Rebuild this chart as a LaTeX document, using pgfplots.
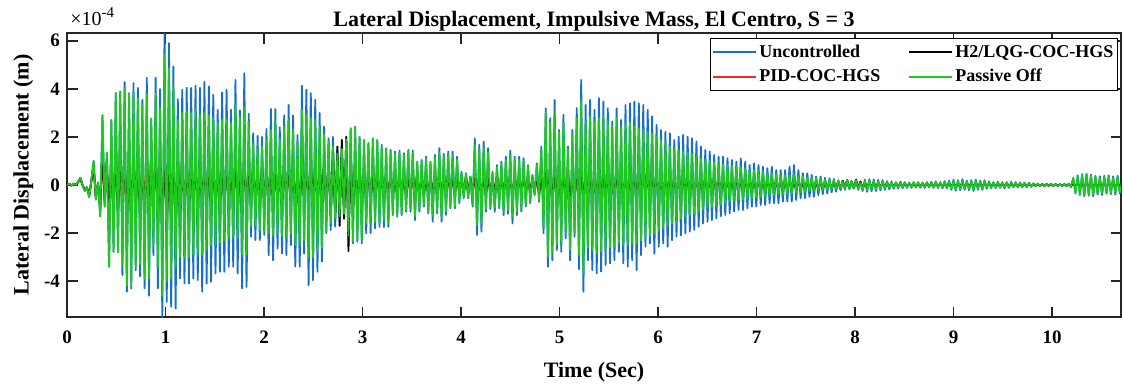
\documentclass[border=0pt]{standalone}
\usepackage{fontspec}
\setmainfont{Liberation Serif}
\usepackage{pgfplots}
\usepackage{pgfplotstable}
\pgfplotsset{compat=1.18}
\definecolor{mblue}{RGB}{25,110,200}
\definecolor{mred}{RGB}{240,40,40}
\definecolor{mgreen}{RGB}{30,200,30}
\definecolor{axgray}{RGB}{38,38,38}

% columns: time, Uncontrolled, Passive Off, PID-COC-HGS, H2/LQG-COC-HGS (units of 1e-4 m)
\pgfplotstableread{
t u g p h
0 0 0 0 0
0.0225 0.05 0.05 0.04 0.05
0.045 -0.03 -0.03 -0.02 -0.03
0.0675 0.06 0.06 0.05 0.06
0.09 0.0 0.0 0.0 0.0
0.1125 0.12 0.12 0.1 0.12
0.135 0.3 0.3 0.25 0.28
0.1575 0.0 0.0 0.0 0.0
0.18 -0.25 -0.25 -0.2 -0.22
0.2025 -0.1 -0.1 -0.1 -0.1
0.225 -0.5 -0.5 -0.4 -0.45
0.2475 0.2 0.2 0.15 0.18
0.27 1.0 1.0 0.7 0.8
0.2925 -0.6 -0.6 -0.5 -0.5
0.315 0.1 0.1 0.0 0.1
0.3375 -1.3 -1.3 -0.9 -1.0
0.36 2.9 2.9 1.2 1.4
0.3825 -0.9 -0.9 -0.6 -0.7
0.405 1.35 1.35 0.8 1.0
0.4275 -3.4 -3.4 -1.5 -1.8
0.45 2.7 2.7 1.0 1.2
0.4725 -2.78 -2.78 -1.2 -1.0
0.495 3.82 3.82 1.3 1.1
0.5175 -2.8 -2.8 -0.9 -1.2
0.54 3.89 3.85 1.1 1.4
0.5625 -3.75 -3.3 -1.3 -1.0
0.585 4.28 4.0 0.9 1.2
0.6075 -4.44 -4.2 -1.4 -1.3
0.63 3.82 3.8 1.2 1.0
0.6525 -4.3 -4.2 -1.0 -1.4
0.675 4.24 3.82 1.3 1.2
0.6975 -3.55 -3.4 -1.1 -0.9
0.72 4.04 3.6 0.8 1.3
0.7425 -3.8 -3.3 -1.2 -1.2
0.765 3.54 3.3 1.0 0.9
0.7875 -4.3 -3.9 -0.8 -1.4
0.81 4.46 3.8 1.2 1.1
0.8325 -4.6 -3.9 -1.1 -1.3
0.855 2.76 2.76 0.7 1.3
0.8775 -2.92 -2.5 -1.0 -0.9
0.90 4.46 3.79 1.1 1.2
0.9225 -4.3 -3.4 -1.2 -1.3
0.945 3.99 3.2 0.9 1.0
0.9675 -5.49 -4.6 -1.4 -1.5
0.99 6.32 5.4 1.3 1.2
1.0125 -4.86 -4.0 -1.6 -2.0
1.035 5.9 4.86 1.2 1.4
1.0575 -5.07 -3.9 -1.3 -1.2
1.08 4.93 4.04 1.0 1.3
1.1025 -5.14 -3.4 -2.0 -1.4
1.125 3.57 2.7 0.9 1.1
1.1475 -3.89 -3.0 -1.0 -1.3
1.17 3.96 3.0 0.8 0.9
1.1925 -4.1 -3.0 -0.9 -1.0
1.215 4.04 3.06 0.7 0.8
1.2375 -4.1 -3.0 -0.8 -0.9
1.26 4.04 3.0 0.7 0.8
1.2825 -3.89 -2.9 -0.8 -0.7
1.305 4.13 3.13 0.6 0.7
1.3275 -3.96 -2.9 -0.7 -0.8
1.35 4.04 2.9 0.6 0.8
1.3725 -4.44 -2.9 -0.7 -0.6
1.395 4.3 3.0 0.8 0.7
1.4175 -4.1 -2.7 -0.6 -0.7
1.44 4.1 2.9 0.7 0.6
1.4625 -4.03 -2.5 -0.6 -0.7
1.485 3.75 2.78 0.5 0.6
1.5075 -3.68 -2.5 -0.7 -0.6
1.53 3.13 2.57 0.6 0.7
1.5525 -3.61 -2.4 -0.5 -0.6
1.575 3.85 2.7 0.7 0.5
1.5975 -3.61 -2.3 -0.6 -0.7
1.62 3.96 2.75 0.6 0.6
1.6425 -3.4 -2.2 -0.7 -0.5
1.665 3.13 2.57 0.5 0.7
1.6875 -3.4 -2.2 -0.6 -0.6
1.71 4.37 3.33 0.8 0.7
1.7325 -3.68 -2.2 -0.7 -0.8
1.755 3.1 2.8 0.6 0.6
1.7775 -4.3 -2.9 -0.8 -0.7
1.80 4.65 3.2 0.7 0.8
1.8225 -4.24 -2.9 -0.6 -0.7
1.845 2.96 2.64 0.7 0.6
1.8675 -2.15 -1.7 -0.8 -0.6
1.89 2.15 1.74 0.6 0.7
1.9125 -2.29 -1.7 -0.7 -0.6
1.935 2.04 1.53 0.8 0.5
1.9575 -2.29 -1.9 -0.8 -0.7
1.98 2.0 1.6 0.8 0.6
2.0025 -2.08 -1.9 -0.8 -0.7
2.025 2.33 1.88 0.6 0.7
2.0475 -2.92 -2.0 -0.7 -0.6
2.07 3.16 2.29 0.6 0.6
2.0925 -3.13 -2.1 -0.5 -0.7
2.115 3.16 2.64 0.6 0.5
2.1375 -2.64 -2.0 -0.6 -0.6
2.16 2.4 1.9 0.5 0.6
2.1825 -2.85 -2.1 -0.6 -0.5
2.205 2.9 2.43 0.6 0.7
2.2275 -2.92 -2.2 -0.5 -0.6
2.25 3.33 2.71 0.5 0.6
2.2725 -2.5 -2.0 -0.6 -0.5
2.295 2.9 2.3 0.6 0.6
2.3175 -3.4 -2.5 -0.5 -0.7
2.34 2.08 1.81 0.6 0.5
2.3625 -3.4 -2.5 -0.7 -0.6
2.385 4.13 3.13 0.6 0.7
2.4075 -2.85 -2.3 -0.5 -0.6
2.43 3.96 2.92 0.8 0.6
2.4525 -4.17 -3.0 -0.6 -0.7
2.475 3.82 2.78 0.7 0.8
2.4975 -3.96 -3.0 -0.7 -0.6
2.52 3.54 2.71 0.8 0.7
2.5425 -3.61 -2.7 -0.6 -0.8
2.565 3.0 2.43 0.7 0.9
2.5875 -3.19 -2.6 -0.8 -0.7
2.61 2.43 2.08 0.7 1.0
2.6325 -2.01 -1.9 -0.8 -1.1
2.655 1.94 1.81 0.9 1.2
2.6775 -1.87 -1.6 -0.7 -1.3
2.70 2.0 1.6 0.8 1.5
2.7225 -1.74 -1.4 -0.9 -1.4
2.745 1.45 1.3 0.8 1.6
2.7675 -1.53 -1.3 -0.9 -1.7
2.79 1.6 1.5 0.9 1.88
2.8125 -1.4 -1.2 -1.0 -1.4
2.835 2.0 1.9 0.8 2.0
2.8575 -2.3 -2.1 -1.2 -2.75
2.88 2.36 2.36 0.7 1.2
2.9025 -2.43 -2.35 -0.8 -1.0
2.925 2.43 2.43 0.6 0.9
2.9475 -2.36 -2.28 -0.7 -0.8
2.97 2.0 2.0 0.6 0.7
2.9925 -2.43 -2.28 -0.6 -0.7
3.015 1.87 1.87 0.5 0.6
3.0375 -2.01 -1.6 -0.6 -0.5
3.06 1.74 1.74 0.5 0.6
3.0825 -2.0 -1.6 -0.5 -0.6
3.105 1.94 1.94 0.6 0.5
3.1275 -1.8 -1.53 -0.5 -0.5
3.15 1.87 1.87 0.5 0.5
3.1725 -1.74 -1.6 -0.4 -0.5
3.195 1.67 1.6 0.5 0.4
3.2175 -1.75 -1.46 -0.5 -0.5
3.24 1.53 1.5 0.4 0.5
3.2625 -1.74 -1.6 -0.5 -0.4
3.285 1.46 1.4 0.5 0.5
3.3075 -1.25 -1.2 -0.4 -0.5
3.33 1.39 1.3 0.4 0.4
3.3525 -1.32 -1.25 -0.5 -0.4
3.375 1.43 1.35 0.4 0.5
3.3975 -1.25 -1.2 -0.4 -0.4
3.42 1.32 1.25 0.5 0.4
3.4425 -1.11 -1.05 -0.4 -0.5
3.465 1.46 1.4 0.4 0.4
3.4875 -1.11 -1.0 -0.5 -0.4
3.51 1.43 1.35 0.4 0.5
3.5325 -1.46 -1.3 -0.6 -0.4
3.555 0.97 0.97 0.6 0.4
3.5775 -1.11 -1.05 -0.5 -0.5
3.60 1.04 1.0 0.4 0.4
3.6225 -0.9 -0.85 -0.4 -0.4
3.645 1.18 1.1 0.4 0.3
3.6675 -1.18 -1.1 -0.4 -0.4
3.69 0.97 0.95 0.3 0.4
3.7125 -1.53 -1.3 -0.4 -0.3
3.735 1.25 1.15 0.4 0.4
3.7575 -1.18 -1.1 -0.3 -0.4
3.78 1.53 1.35 0.4 0.3
3.8025 -1.53 -1.35 -0.4 -0.4
3.825 1.3 1.2 0.3 0.4
3.8475 -1.25 -1.1 -0.4 -0.3
3.87 1.39 1.25 0.4 0.4
3.8925 -0.97 -0.9 -0.3 -0.4
3.915 1.39 1.2 0.3 0.3
3.9375 -0.97 -0.9 -0.4 -0.3
3.96 1.18 1.05 0.3 0.4
3.9825 -0.76 -0.7 -0.3 -0.3
4.005 0.55 0.5 0.3 0.3
4.0275 -0.55 -0.5 -0.4 -0.3
4.05 0.49 0.45 0.4 0.3
4.0725 -0.55 -0.5 -0.3 -0.3
4.095 0.35 0.35 0.3 0.3
4.1175 -0.9 -0.8 -0.3 -0.4
4.14 1.94 1.67 0.3 0.4
4.1625 -2.08 -1.67 -0.4 -0.3
4.185 1.67 1.5 0.4 0.3
4.2075 -1.94 -1.6 -0.3 -0.4
4.23 1.81 1.55 0.3 0.3
4.2525 -1.11 -1.0 -0.3 -0.4
4.275 1.53 1.35 0.4 0.3
4.2975 -1.0 -0.9 -0.3 -0.3
4.32 0.55 0.5 0.3 0.3
4.3425 -1.11 -0.95 -0.4 -0.3
4.365 0.83 0.75 0.5 0.3
4.3875 -0.97 -0.9 -0.5 -0.4
4.41 0.97 0.9 0.4 0.3
4.4325 -1.25 -1.1 -0.3 -0.3
4.455 1.18 1.05 0.3 0.4
4.4775 -1.2 -1.05 -0.3 -0.3
4.50 1.43 1.25 0.3 0.3
4.5225 -1.6 -1.3 -0.3 -0.4
4.545 1.18 1.05 0.3 0.3
4.5675 -1.25 -1.1 -0.3 -0.3
4.59 1.18 1.05 0.3 0.3
4.6125 -1.1 -1.0 -0.3 -0.3
4.635 1.11 1.0 0.3 0.3
4.6575 -0.9 -0.85 -0.3 -0.3
4.68 0.83 0.8 0.3 0.3
4.7025 -0.76 -0.7 -0.3 -0.3
4.725 0.42 0.4 0.3 0.3
4.7475 -0.42 -0.4 -0.3 -0.3
4.77 0.9 0.85 0.4 0.4
4.7925 -0.7 -0.65 -0.4 -0.4
4.815 1.6 1.5 0.5 0.4
4.8375 -2.01 -1.8 -0.6 -0.5
4.86 3.19 2.99 0.8 0.7
4.8825 -3.4 -2.99 -0.9 -0.8
4.905 2.78 2.6 0.7 0.6
4.9275 -3.13 -2.8 -0.8 -0.7
4.95 3.54 2.92 0.7 0.6
4.9725 -2.71 -2.5 -0.6 -0.7
4.995 2.29 2.2 0.6 0.5
5.0175 -2.78 -2.5 -0.7 -0.6
5.04 2.92 2.6 0.7 0.6
5.0625 -2.22 -2.0 -0.9 -0.6
5.085 1.6 1.5 0.76 0.5
5.1075 -3.13 -2.7 -1.0 -0.7
5.13 2.29 2.1 0.6 0.5
5.1525 -2.15 -2.0 -0.6 -0.6
5.175 3.2 2.8 0.5 0.5
5.1975 -3.5 -2.9 -0.6 -0.5
5.22 4.37 3.54 0.6 0.5
5.2425 -4.44 -3.68 -0.5 -0.6
5.265 3.33 2.64 0.5 0.5
5.2875 -3.13 -2.6 -0.5 -0.5
5.31 3.54 2.85 0.5 0.5
5.3325 -3.54 -2.7 -0.5 -0.5
5.355 3.13 2.6 0.5 0.4
5.3775 -3.68 -2.8 -0.4 -0.5
5.40 3.61 2.78 0.4 0.5
5.4225 -3.6 -2.75 -0.5 -0.4
5.445 3.47 2.85 0.4 0.4
5.4675 -3.33 -2.7 -0.4 -0.4
5.49 3.19 2.64 0.4 0.4
5.5125 -3.26 -2.6 -0.4 -0.4
5.535 2.64 2.4 0.4 0.4
5.5575 -3.13 -2.55 -0.4 -0.4
5.58 3.19 2.78 0.4 0.4
5.6025 -2.78 -2.4 -0.4 -0.4
5.625 2.71 2.4 0.4 0.4
5.6475 -3.26 -2.5 -0.4 -0.4
5.67 3.33 2.57 0.4 0.4
5.6925 -3.4 -2.5 -0.4 -0.4
5.715 3.4 2.6 0.4 0.4
5.7375 -3.13 -2.45 -0.4 -0.4
5.76 3.47 2.43 0.4 0.4
5.7825 -3.54 -2.43 -0.4 -0.4
5.805 3.4 2.35 0.4 0.4
5.8275 -2.92 -2.3 -0.4 -0.4
5.85 3.33 2.3 0.4 0.4
5.8725 -2.57 -2.2 -0.3 -0.4
5.895 3.13 2.2 0.4 0.3
5.9175 -2.43 -2.1 -0.3 -0.4
5.94 2.85 2.15 0.3 0.3
5.9625 -2.85 -2.0 -0.3 -0.3
5.985 2.5 2.0 0.3 0.3
6.0075 -2.57 -1.9 -0.3 -0.3
6.03 2.29 1.87 0.3 0.3
6.0525 -2.43 -1.8 -0.3 -0.3
6.075 2.22 1.75 0.3 0.3
6.0975 -2.57 -1.7 -0.3 -0.3
6.12 2.15 1.6 0.3 0.3
6.1425 -2.3 -1.6 -0.3 -0.3
6.165 1.87 1.53 0.3 0.3
6.1875 -2.15 -1.5 -0.3 -0.3
6.21 2.01 1.45 0.3 0.3
6.2325 -2.1 -1.4 -0.3 -0.3
6.255 2.08 1.4 0.3 0.3
6.2775 -2.01 -1.3 -0.3 -0.3
6.30 2.01 1.35 0.3 0.3
6.3225 -1.94 -1.25 -0.3 -0.3
6.345 1.94 1.3 0.3 0.3
6.3675 -1.87 -1.2 -0.3 -0.3
6.39 1.81 1.2 0.3 0.3
6.4125 -1.74 -1.1 -0.3 -0.3
6.435 1.6 1.1 0.3 0.3
6.4575 -1.6 -1.0 -0.3 -0.3
6.48 1.46 1.05 0.3 0.3
6.5025 -1.53 -0.95 -0.3 -0.3
6.525 1.39 1.0 0.3 0.3
6.5475 -1.46 -0.9 -0.3 -0.3
6.57 1.25 0.95 0.25 0.3
6.5925 -1.39 -0.85 -0.3 -0.25
6.615 1.18 0.9 0.25 0.3
6.6375 -1.3 -0.8 -0.3 -0.25
6.66 1.18 0.85 0.25 0.25
6.6825 -1.25 -0.75 -0.25 -0.25
6.705 1.11 0.8 0.25 0.25
6.7275 -1.18 -0.7 -0.25 -0.25
6.75 1.04 0.8 0.25 0.25
6.7725 -1.11 -0.65 -0.25 -0.25
6.795 0.97 0.75 0.25 0.25
6.8175 -1.04 -0.62 -0.25 -0.25
6.84 1.11 0.75 0.25 0.25
6.8625 -1.04 -0.6 -0.25 -0.25
6.885 0.97 0.7 0.25 0.25
6.9075 -0.97 -0.58 -0.25 -0.25
6.93 0.83 0.62 0.2 0.25
6.9525 -0.9 -0.55 -0.25 -0.2
6.975 0.9 0.6 0.2 0.2
6.9975 -0.9 -0.52 -0.2 -0.2
7.02 0.83 0.58 0.2 0.2
7.0425 -0.83 -0.5 -0.2 -0.2
7.065 0.76 0.55 0.2 0.2
7.0875 -0.83 -0.48 -0.2 -0.2
7.11 0.7 0.5 0.2 0.2
7.1325 -0.76 -0.45 -0.2 -0.2
7.155 0.76 0.48 0.2 0.2
7.1775 -0.76 -0.42 -0.2 -0.2
7.20 0.62 0.45 0.2 0.2
7.2225 -0.76 -0.4 -0.2 -0.2
7.245 0.62 0.42 0.2 0.2
7.2675 -0.69 -0.38 -0.2 -0.2
7.29 0.62 0.4 0.2 0.2
7.3125 -0.69 -0.36 -0.2 -0.2
7.335 0.76 0.42 0.2 0.2
7.3575 -0.69 -0.35 -0.2 -0.2
7.38 0.83 0.45 0.2 0.2
7.4025 -0.62 -0.32 -0.2 -0.2
7.425 0.62 0.38 0.2 0.2
7.4475 -0.55 -0.3 -0.2 -0.2
7.47 0.49 0.35 0.15 0.15
7.4925 -0.55 -0.28 -0.15 -0.15
7.515 0.49 0.32 0.15 0.15
7.5375 -0.5 -0.25 -0.15 -0.15
7.56 0.42 0.3 0.15 0.15
7.5825 -0.49 -0.24 -0.15 -0.15
7.605 0.35 0.28 0.15 0.15
7.6275 -0.42 -0.22 -0.15 -0.15
7.65 0.35 0.25 0.15 0.15
7.6725 -0.38 -0.2 -0.15 -0.15
7.695 0.3 0.22 0.12 0.15
7.7175 -0.35 -0.2 -0.12 -0.12
7.74 0.28 0.21 0.12 0.12
7.7625 -0.3 -0.18 -0.12 -0.12
7.785 0.25 0.2 0.12 0.12
7.8075 -0.28 -0.16 -0.12 -0.12
7.83 0.2 0.18 0.12 0.15
7.8525 -0.22 -0.16 -0.12 -0.15
7.875 0.18 0.15 0.1 0.18
7.8975 -0.2 -0.15 -0.1 -0.12
7.92 0.22 0.2 0.1 0.2
7.9425 -0.18 -0.15 -0.1 -0.12
7.965 0.15 0.14 0.1 0.15
7.9875 -0.15 -0.13 -0.1 -0.12
8.01 0.2 0.18 0.1 0.22
8.0325 -0.2 -0.15 -0.1 -0.12
8.055 0.12 0.1 0.08 0.15
8.0775 -0.25 -0.2 -0.1 -0.15
8.10 0.22 0.17 0.08 0.1
8.1225 -0.28 -0.2 -0.08 -0.1
8.145 0.24 0.18 0.08 0.1
8.1675 -0.26 -0.19 -0.08 -0.1
8.19 0.23 0.17 0.08 0.1
8.2125 -0.25 -0.18 -0.08 -0.1
8.235 0.21 0.15 0.08 0.08
8.2575 -0.22 -0.16 -0.08 -0.08
8.28 0.2 0.15 0.08 0.08
8.3025 -0.2 -0.14 -0.08 -0.08
8.325 0.16 0.12 0.06 0.08
8.3475 -0.18 -0.12 -0.06 -0.08
8.37 0.15 0.12 0.06 0.06
8.3925 -0.16 -0.12 -0.06 -0.06
8.415 0.12 0.1 0.06 0.06
8.4375 -0.15 -0.1 -0.06 -0.06
8.46 0.14 0.1 0.06 0.06
8.4825 -0.14 -0.1 -0.06 -0.06
8.505 0.12 0.09 0.05 0.05
8.5275 -0.12 -0.09 -0.05 -0.05
8.55 0.1 0.08 0.05 0.05
8.5725 -0.12 -0.09 -0.05 -0.05
8.595 0.12 0.1 0.05 0.05
8.6175 -0.1 -0.08 -0.05 -0.05
8.64 0.12 0.1 0.05 0.05
8.6625 -0.12 -0.09 -0.05 -0.05
8.685 0.1 0.08 0.05 0.05
8.7075 -0.12 -0.09 -0.05 -0.05
8.73 0.12 0.1 0.05 0.05
8.7525 -0.1 -0.08 -0.05 -0.05
8.775 0.13 0.1 0.05 0.05
8.7975 -0.12 -0.09 -0.05 -0.05
8.82 0.15 0.12 0.05 0.05
8.8425 -0.12 -0.1 -0.05 -0.05
8.865 0.12 0.1 0.05 0.05
8.8875 -0.14 -0.1 -0.05 -0.05
8.91 0.16 0.13 0.05 0.05
8.9325 -0.15 -0.12 -0.05 -0.05
8.955 0.18 0.14 0.05 0.05
8.9775 -0.2 -0.15 -0.05 -0.05
9.00 0.22 0.17 0.05 0.05
9.0225 -0.24 -0.18 -0.05 -0.05
9.045 0.2 0.16 0.05 0.05
9.0675 -0.22 -0.17 -0.05 -0.05
9.09 0.24 0.18 0.05 0.05
9.1125 -0.2 -0.15 -0.05 -0.05
9.135 0.18 0.14 0.05 0.05
9.1575 -0.22 -0.17 -0.05 -0.05
9.18 0.2 0.16 0.05 0.05
9.2025 -0.25 -0.2 -0.05 -0.05
9.225 0.22 0.17 0.05 0.05
9.2475 -0.2 -0.16 -0.05 -0.05
9.27 0.18 0.15 0.05 0.05
9.2925 -0.2 -0.16 -0.05 -0.05
9.315 0.2 0.16 0.05 0.05
9.3375 -0.16 -0.12 -0.05 -0.05
9.36 0.15 0.12 0.05 0.05
9.3825 -0.14 -0.11 -0.05 -0.05
9.405 0.12 0.1 0.05 0.05
9.4275 -0.13 -0.1 -0.05 -0.05
9.45 0.14 0.11 0.05 0.05
9.4725 -0.12 -0.1 -0.05 -0.05
9.495 0.12 0.1 0.05 0.05
9.5175 -0.14 -0.11 -0.05 -0.05
9.54 0.12 0.1 0.05 0.05
9.5625 -0.12 -0.09 -0.05 -0.05
9.585 0.13 0.1 0.05 0.05
9.6075 -0.1 -0.08 -0.05 -0.05
9.63 0.12 0.09 0.05 0.05
9.6525 -0.1 -0.08 -0.05 -0.05
9.675 0.11 0.08 0.04 0.04
9.6975 -0.1 -0.08 -0.04 -0.04
9.72 0.1 0.08 0.04 0.04
9.7425 -0.09 -0.07 -0.04 -0.04
9.765 0.1 0.08 0.04 0.04
9.7875 -0.08 -0.06 -0.04 -0.04
9.81 0.07 0.06 0.03 0.03
9.8325 -0.06 -0.05 -0.03 -0.03
9.855 0.06 0.05 0.03 0.03
9.8775 -0.05 -0.04 -0.03 -0.03
9.90 0.05 0.04 0.03 0.03
9.9225 -0.06 -0.05 -0.03 -0.03
9.945 0.05 0.04 0.03 0.03
9.9675 -0.05 -0.04 -0.03 -0.03
9.99 0.05 0.04 0.03 0.03
10.0125 -0.04 -0.03 -0.03 -0.03
10.035 0.04 0.03 0.02 0.02
10.0575 -0.05 -0.04 -0.02 -0.02
10.08 0.04 0.03 0.02 0.02
10.1025 -0.05 -0.04 -0.02 -0.02
10.125 0.04 0.03 0.02 0.02
10.1475 -0.05 -0.04 -0.02 -0.02
10.17 0.06 0.05 0.02 0.03
10.1925 -0.1 -0.08 -0.03 -0.03
10.215 0.3 0.28 0.05 0.06
10.2375 -0.35 -0.32 -0.06 -0.07
10.26 0.4 0.35 0.07 0.08
10.2825 -0.42 -0.38 -0.08 -0.08
10.305 0.45 0.42 0.08 0.09
10.3275 -0.47 -0.42 -0.08 -0.09
10.35 0.47 0.44 0.08 0.1
10.3725 -0.45 -0.42 -0.08 -0.09
10.395 0.43 0.38 0.07 0.08
10.4175 -0.47 -0.4 -0.08 -0.09
10.44 0.38 0.35 0.07 0.08
10.4625 -0.4 -0.36 -0.07 -0.08
10.485 0.36 0.32 0.07 0.08
10.5075 -0.42 -0.35 -0.07 -0.08
10.53 0.38 0.33 0.07 0.08
10.5525 -0.36 -0.32 -0.07 -0.08
10.575 0.4 0.35 0.07 0.08
10.5975 -0.38 -0.33 -0.07 -0.08
10.62 0.36 0.32 0.07 0.08
10.6425 -0.4 -0.34 -0.07 -0.08
10.665 0.38 0.33 0.07 0.08
10.6875 -0.35 -0.3 -0.07 -0.08
10.71 0.1 0.1 0.03 0.03
}\data

\begin{document}
\begin{tikzpicture}
\begin{axis}[
  name=ax, at={(0,0)}, anchor=south west,
  scale only axis, width=527pt, height=142pt,
  xmin=0, xmax=10.7, ymin=-5.49, ymax=6.32,
  xtick={0,1,2,3,4,5,6,7,8,9,10},
  xticklabels={0,1,2,3,4,5,6,7,8,9,10},
  ytick={-4,-2,0,2,4,6},
  yticklabels={-4,-2,0,2,4,6},
  tick align=inside,
  major tick length=5.25pt,
  tick style={axgray, line width=0.8pt},
  axis line style={axgray, line width=1pt},
  tick label style={font=\fontsize{9.5}{11}\selectfont\bfseries, text=black},
  xticklabel style={yshift=-3.3pt},
  xlabel={Time (Sec)},
  xlabel style={font=\fontsize{11}{13}\selectfont\bfseries, at={(rel axis cs:0.5,-0.1338)}, anchor=north},
  ylabel={Lateral Displacement (m)},
  ylabel style={font=\fontsize{11}{13}\selectfont\bfseries, at={(rel axis cs:-0.0252,0.5)}, anchor=south},
  every axis plot/.append style={mark=none, line width=0.9pt, line join=round},
  legend columns=2,
  legend cell align=left,
  legend style={at={(rel axis cs:0.9972,0.9824)}, anchor=north east, draw=black, line width=0.6pt, fill=white,
    font=\fontsize{9}{11}\selectfont\bfseries, inner sep=1pt, row sep=1pt, column sep=0pt,
    /tikz/every even column/.append style={column sep=13pt},
    nodes={inner sep=1pt, text height=0.72em, text depth=0.22em}},
  legend image code/.code={\draw[#1, line width=1pt] (0pt,0pt) -- (21.5pt,0pt);},
]
\addplot[mblue, forget plot] table[x=t,y=u]{\data};
\addplot[mred, forget plot] table[x=t,y=p]{\data};
\addplot[black, forget plot] table[x=t,y=h]{\data};
\addplot[mgreen, forget plot] table[x=t,y=g]{\data};
\addlegendimage{mblue}\addlegendentry{Uncontrolled}
\addlegendimage{black}\addlegendentry{H2/LQG-COC-HGS}
\addlegendimage{mred}\addlegendentry{PID-COC-HGS}
\addlegendimage{mgreen}\addlegendentry{Passive Off}
\end{axis}
\node[anchor=base, font=\fontsize{11}{13}\selectfont\bfseries, inner sep=0pt] at ([yshift=3.5pt]ax.north) {Lateral Displacement, Impulsive Mass, El Centro, S = 3};
\node[anchor=base west, font=\fontsize{10}{12}\selectfont, inner sep=0pt] at ([xshift=1.5pt,yshift=4pt]ax.north west) {×10\raisebox{0.85ex}{\fontsize{7.5}{9}\selectfont -4}};
\pgfresetboundingbox
\path[use as bounding box] ([xshift=-33.5pt,yshift=-36pt]ax.south west) rectangle ([xshift=1.5pt,yshift=16.5pt]ax.north east);
\end{tikzpicture}
\end{document}
